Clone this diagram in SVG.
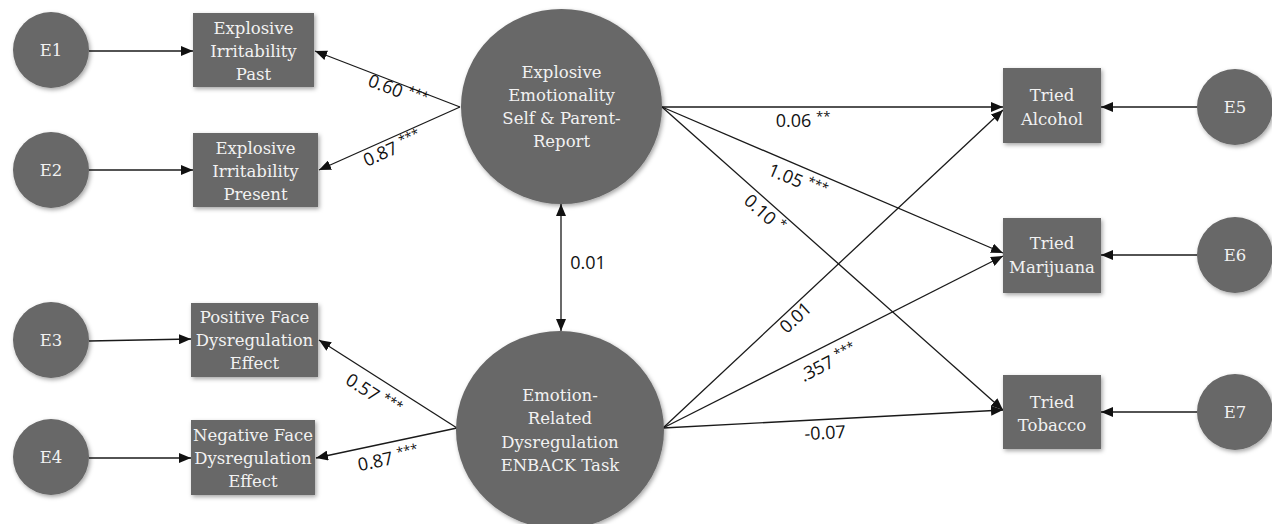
<svg xmlns="http://www.w3.org/2000/svg" width="1272" height="524" viewBox="0 0 1272 524">
<defs>
<filter id="sh" x="-20%" y="-20%" width="140%" height="140%">
<feDropShadow dx="1.5" dy="2" stdDeviation="2" flood-color="#000" flood-opacity="0.35"/>
</filter>
<marker id="ah" viewBox="0 0 12 10" refX="12" refY="5" markerWidth="12" markerHeight="10" markerUnits="userSpaceOnUse" orient="auto-start-reverse">
<path d="M0,0 L12,5 L0,10 z" fill="#111"/>
</marker>
</defs>
<style>
.n{fill:#676767;filter:url(#sh)}
.t{font-family:"DejaVu Serif","Liberation Serif",serif;font-size:16.5px;fill:#f2f2f2;text-anchor:middle;dominant-baseline:central}
.c line{stroke:#1a1a1a;stroke-width:1.3;fill:none;marker-end:url(#ah)}
.l{font-family:"Open Sans","Liberation Sans",sans-serif;font-size:18px;fill:#111;text-anchor:middle;dominant-baseline:central}
.s{font-size:13px;fill:#111}
</style>
<rect width="1272" height="524" fill="#fff"/>
<g class="c" id="connectors">
<line x1="89" y1="51" x2="193" y2="51"/>
<line x1="89" y1="170" x2="193" y2="170"/>
<line x1="89" y1="341" x2="191" y2="339"/>
<line x1="89" y1="458" x2="191" y2="458"/>
<line x1="460" y1="107" x2="315" y2="51"/>
<line x1="460" y1="107" x2="319" y2="170"/>
<line x1="457" y1="428" x2="319" y2="340"/>
<line x1="457" y1="428" x2="316" y2="458"/>
<line x1="561" y1="204" x2="561" y2="331" style="marker-start:url(#ah)"/>
<line x1="662" y1="107" x2="1003" y2="107"/>
<line x1="662" y1="107" x2="1003" y2="253"/>
<line x1="662" y1="107" x2="1003" y2="410"/>
<line x1="663" y1="428" x2="1003" y2="110"/>
<line x1="663" y1="428" x2="1003" y2="256"/>
<line x1="663" y1="428" x2="1003" y2="410"/>
<line x1="1197" y1="107" x2="1101" y2="107"/>
<line x1="1197" y1="255" x2="1101" y2="255"/>
<line x1="1197" y1="412" x2="1101" y2="412"/>
</g>
<g id="labels">
<text class="l" transform="translate(398,90) rotate(21)">0.60 <tspan class="s" dy="-4">***</tspan></text>
<text class="l" transform="translate(392,148) rotate(-24)">0.87 <tspan class="s" dy="-4">***</tspan></text>
<text class="l" transform="translate(374,394) rotate(33)">0.57 <tspan class="s" dy="-4">***</tspan></text>
<text class="l" transform="translate(388,458) rotate(-12)">0.87 <tspan class="s" dy="-4">***</tspan></text>
<text class="l" transform="translate(803,120)">0.06 <tspan class="s" dy="-4">**</tspan></text>
<text class="l" transform="translate(798,180) rotate(23)">1.05 <tspan class="s" dy="-4">***</tspan></text>
<text class="l" transform="translate(765,213) rotate(42)">0.10 <tspan class="s" dy="-4">*</tspan></text>
<text class="l" x="588" y="262">0.01</text>
<text class="l" transform="translate(795,317) rotate(-43)">0.01</text>
<text class="l" transform="translate(828,362) rotate(-27)">.357 <tspan class="s" dy="-4">***</tspan></text>
<text class="l" transform="translate(825,432) rotate(-3)">-0.07</text>
</g>
<g id="E1"><circle class="n" cx="51" cy="50" r="38"/><text class="t" x="51" y="50">E1</text></g>
<g id="E2"><circle class="n" cx="51" cy="170" r="38"/><text class="t" x="51" y="170">E2</text></g>
<g id="E3"><circle class="n" cx="51" cy="340" r="38"/><text class="t" x="51" y="340">E3</text></g>
<g id="E4"><circle class="n" cx="51" cy="457" r="38"/><text class="t" x="51" y="457">E4</text></g>
<g id="E5"><circle class="n" cx="1235" cy="107" r="38"/><text class="t" x="1235" y="107">E5</text></g>
<g id="E6"><circle class="n" cx="1235" cy="255" r="38"/><text class="t" x="1235" y="255">E6</text></g>
<g id="E7"><circle class="n" cx="1235" cy="412" r="38"/><text class="t" x="1235" y="412">E7</text></g>
<g id="IrritPast"><rect class="n" x="193" y="13" width="121" height="74"/>
<text class="t" x="253.5" y="28">Explosive</text><text class="t" x="253.5" y="51">Irritability</text><text class="t" x="253.5" y="74">Past</text></g>
<g id="IrritPresent"><rect class="n" x="193" y="133" width="125" height="74"/>
<text class="t" x="255.5" y="148">Explosive</text><text class="t" x="255.5" y="171">Irritability</text><text class="t" x="255.5" y="194">Present</text></g>
<g id="PosFace"><rect class="n" x="191" y="303" width="127" height="74"/>
<text class="t" x="254.5" y="317">Positive Face</text><text class="t" x="254.5" y="340">Dysregulation</text><text class="t" x="254.5" y="363">Effect</text></g>
<g id="NegFace"><rect class="n" x="191" y="420" width="124" height="75"/>
<text class="t" x="253" y="435">Negative Face</text><text class="t" x="253" y="458">Dysregulation</text><text class="t" x="253" y="481">Effect</text></g>
<g id="ExplEmot"><ellipse class="n" cx="561.5" cy="106.5" rx="100.5" ry="97.5"/>
<text class="t" x="561.5" y="72">Explosive</text><text class="t" x="561.5" y="95">Emotionality</text><text class="t" x="561.5" y="118">Self &amp; Parent-</text><text class="t" x="561.5" y="141">Report</text></g>
<g id="EmotDys"><ellipse class="n" cx="560" cy="430" rx="104" ry="99"/>
<text class="t" x="560" y="395">Emotion-</text><text class="t" x="560" y="418">Related</text><text class="t" x="560" y="442">Dysregulation</text><text class="t" x="560" y="465">ENBACK Task</text></g>
<g id="Alcohol"><rect class="n" x="1003" y="68" width="98" height="75"/>
<text class="t" x="1052" y="95">Tried</text><text class="t" x="1052" y="119">Alcohol</text></g>
<g id="Marijuana"><rect class="n" x="1003" y="218" width="98" height="75"/>
<text class="t" x="1052" y="243">Tried</text><text class="t" x="1052" y="267">Marijuana</text></g>
<g id="Tobacco"><rect class="n" x="1003" y="375" width="98" height="74"/>
<text class="t" x="1052" y="402">Tried</text><text class="t" x="1052" y="425">Tobacco</text></g>
</svg>
